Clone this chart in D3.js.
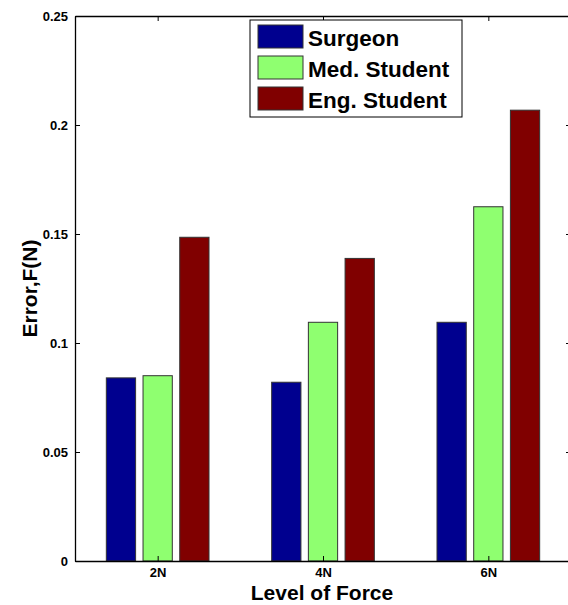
<!DOCTYPE html>
<html>
<head>
<meta charset="utf-8">
<script src="https://cdn.jsdelivr.net/npm/d3@7/dist/d3.min.js"></script>
<style>
  body { margin: 0; background: #fff; overflow: hidden; }
  svg text { font-family: "Liberation Sans", Arial, sans-serif; font-weight: bold; }
</style>
</head>
<body>
<div id="chart"></div>
<script>
// DATA
const categories = ["2N", "4N", "6N"];
const seriesNames = ["Surgeon", "Med. Student", "Eng. Student"];
const surgeon = [0.084, 0.082, 0.1095];
const medStudent = [0.085, 0.1095, 0.1625];
const engStudent = [0.1485, 0.1388, 0.2068];
const yTicks = [0, 0.05, 0.1, 0.15, 0.2, 0.25];
const colors = ["#00008f", "#8fff70", "#800000"];

const seriesValues = [surgeon, medStudent, engStudent];

// SIZE (the plot box runs a few pixels past the right edge, as in the source image)
const svgWidth = 568;
const svgHeight = 605;
const margin = { top: 16, right: -3, bottom: 44, left: 75 };
const width = svgWidth - margin.left - margin.right;
const height = svgHeight - margin.top - margin.bottom;

const svg = d3.select("#chart")
  .append("svg")
  .attr("width", svgWidth)
  .attr("height", svgHeight);

const g = svg.append("g")
  .attr("transform", `translate(${margin.left},${margin.top})`);

// SCALES (matlab style: x from 0.5 to n + 0.5)
const xScale = d3.scaleLinear()
  .domain([0.5, categories.length + 0.5])
  .range([0, width]);

const yScale = d3.scaleLinear()
  .domain([0, 0.25])
  .range([height, 0]);

const groupOffset = 0.222;
const barWidth = 0.177;

// BARS
seriesValues.forEach((values, s) => {
  g.selectAll(`.bar-${s}`)
    .data(values)
    .enter()
    .append("rect")
    .attr("class", `bar-${s}`)
    .attr("x", (d, i) => xScale(i + 1 + (s - 1) * groupOffset - barWidth / 2))
    .attr("y", d => yScale(d))
    .attr("width", xScale(barWidth) - xScale(0))
    .attr("height", d => yScale(0) - yScale(d))
    .attr("fill", colors[s])
    .attr("stroke", "#333")
    .attr("stroke-width", 1);
});

// AXES (ticks inward, box around)
const xAxis = d3.axisBottom(xScale)
  .tickValues(d3.range(1, categories.length + 1))
  .tickFormat(d => categories[d - 1])
  .tickSizeInner(-5)
  .tickSizeOuter(0)
  .tickPadding(7);

const yAxis = d3.axisLeft(yScale)
  .tickValues(yTicks)
  .tickFormat(d => d === 0 ? "0" : d3.format("")(+d.toFixed(2)))
  .tickSizeInner(-5)
  .tickSizeOuter(0)
  .tickPadding(7);

const gx = g.append("g")
  .attr("transform", `translate(0,${height})`)
  .call(xAxis);

const gy = g.append("g").call(yAxis);

const xTop = g.append("g")
  .call(d3.axisTop(xScale).tickValues(d3.range(1, categories.length + 1))
    .tickFormat("").tickSizeInner(-5).tickSizeOuter(0));

const yRight = g.append("g")
  .attr("transform", `translate(${width},0)`)
  .call(d3.axisRight(yScale).tickValues(yTicks)
    .tickFormat("").tickSizeInner(-5).tickSizeOuter(0));

[gx, gy, xTop, yRight].forEach(a => {
  a.select(".domain").attr("stroke", "#000").attr("stroke-width", 1.3);
  a.selectAll(".tick line").attr("stroke", "#000");
  a.selectAll(".tick text").attr("font-size", 13).attr("fill", "#000");
});

// LABELS
svg.append("text")
  .attr("x", 322)
  .attr("y", 600)
  .attr("text-anchor", "middle")
  .attr("font-size", 21)
  .text("Level of Force");

svg.append("text")
  .attr("transform", `translate(37,${margin.top + height / 2}) rotate(-90)`)
  .attr("text-anchor", "middle")
  .attr("font-size", 21)
  .text("Error,F(N)");

// LEGEND
const legend = svg.append("g").attr("transform", "translate(250,20)");

legend.append("rect")
  .attr("width", 212)
  .attr("height", 97)
  .attr("fill", "#fff")
  .attr("stroke", "#000")
  .attr("stroke-width", 1);

seriesNames.forEach((name, i) => {
  legend.append("rect")
    .attr("x", 8)
    .attr("y", 5 + i * 31)
    .attr("width", 45)
    .attr("height", 23)
    .attr("fill", colors[i])
    .attr("stroke", "#333");
  legend.append("text")
    .attr("x", 58)
    .attr("y", 26 + i * 31)
    .attr("font-size", 22.5)
    .text(name);
});
</script>
</body>
</html>
